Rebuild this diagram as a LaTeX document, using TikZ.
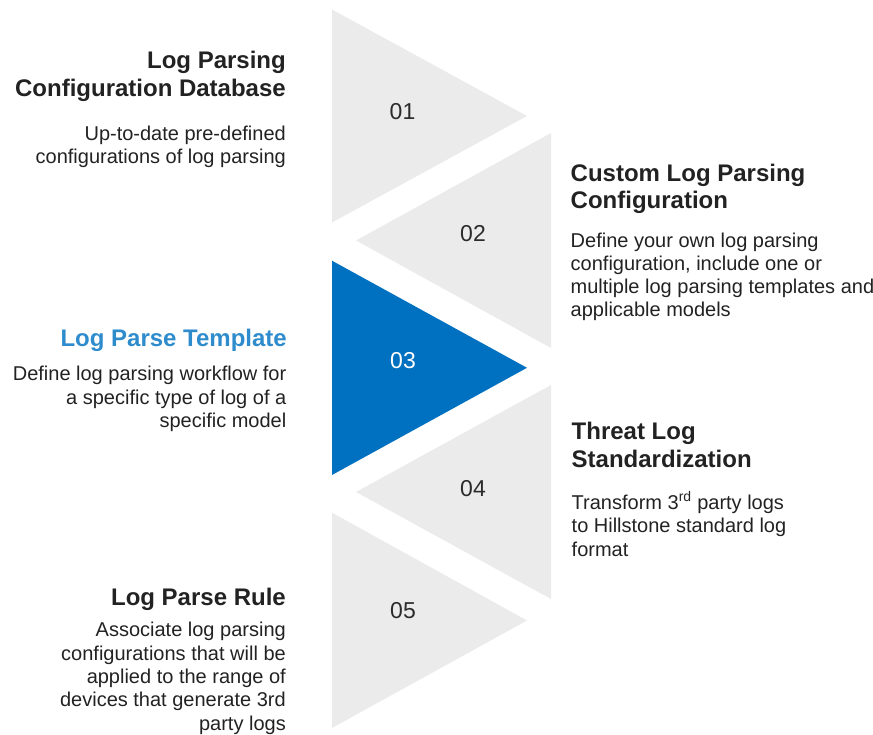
\documentclass[tikz,border=0pt]{standalone}
\usepackage{fontspec}
\setmainfont{Liberation Sans}
\definecolor{trigray}{HTML}{EBEBEB}
\definecolor{triblue}{HTML}{0070C0}
\definecolor{headblue}{HTML}{2E8CCD}
\definecolor{ink}{HTML}{222222}
\definecolor{numgray}{HTML}{2B2B2B}

\begin{document}
\begin{tikzpicture}[x=1pt,y=-1pt,
  num/.style={font=\fontsize{23}{26}\selectfont, text=numgray, inner sep=0},
  head/.style={font=\fontsize{24}{27.5}\selectfont\bfseries, text=ink, inner sep=0},
  body/.style={font=\fontsize{20}{23.3}\selectfont, text=ink, inner sep=0},
  % multi-line nodes: the base anchor sits on the last line's baseline
  lefttext/.style={align=right, anchor=base east},
  righttext/.style={align=left, anchor=base west}]
\useasboundingbox (0,0) rectangle (873,735);

% chevron triangles, alternating direction
\fill[trigray] (332,9.5) -- (527,116) -- (332,222.5) -- cycle;
\fill[trigray] (551,133) -- (356,240.5) -- (551,348) -- cycle;
\fill[triblue] (332,260.7) -- (527,367.8) -- (332,475) -- cycle;
\fill[trigray] (551,385) -- (356,492) -- (551,599) -- cycle;
\fill[trigray] (332,512.7) -- (527,620.5) -- (332,728) -- cycle;

% step numbers
\node[num] (n01) at (402.5,111.5) {01};
\node[num] (n02) at (473,233.5) {02};
\node[num, text=white] (n03) at (403,361) {03};
\node[num] (n04) at (473,488.5) {04};
\node[num] (n05) at (403,611) {05};

% step 01
\node[head, lefttext] (h01) at (286,96.5) {Log Parsing\\Configuration Database};
\node[body, lefttext] (b01) at (286,164) {Up-to-date pre-defined\\configurations of log parsing};

% step 02
\node[head, righttext] (h02) at (570.5,209) {Custom Log Parsing\\Configuration};
\node[body, righttext] (b02) at (570.5,317) {Define your own log parsing\\configuration, include one or\\multiple log parsing templates and\\applicable models};

% step 03
\node[head, lefttext, text=headblue] (h03) at (287,346) {Log Parse Template};
\node[body, lefttext] (b03) at (286.5,427.5) {Define log parsing workflow for\\a specific type of log of a\\specific model};

% step 04
\node[head, righttext] (h04) at (571.5,467) {Threat Log\\Standardization};
\node[body, righttext] (b04) at (571.5,556) {Transform 3\textsuperscript{rd} party logs\\to Hillstone standard log\\format};

% step 05
\node[head, lefttext] (h05) at (286,605.5) {Log Parse Rule};
\node[body, lefttext] (b05) at (286,730) {Associate log parsing\\configurations that will be\\applied to the range of\\devices that generate 3rd\\party logs};
\end{tikzpicture}
\end{document}
